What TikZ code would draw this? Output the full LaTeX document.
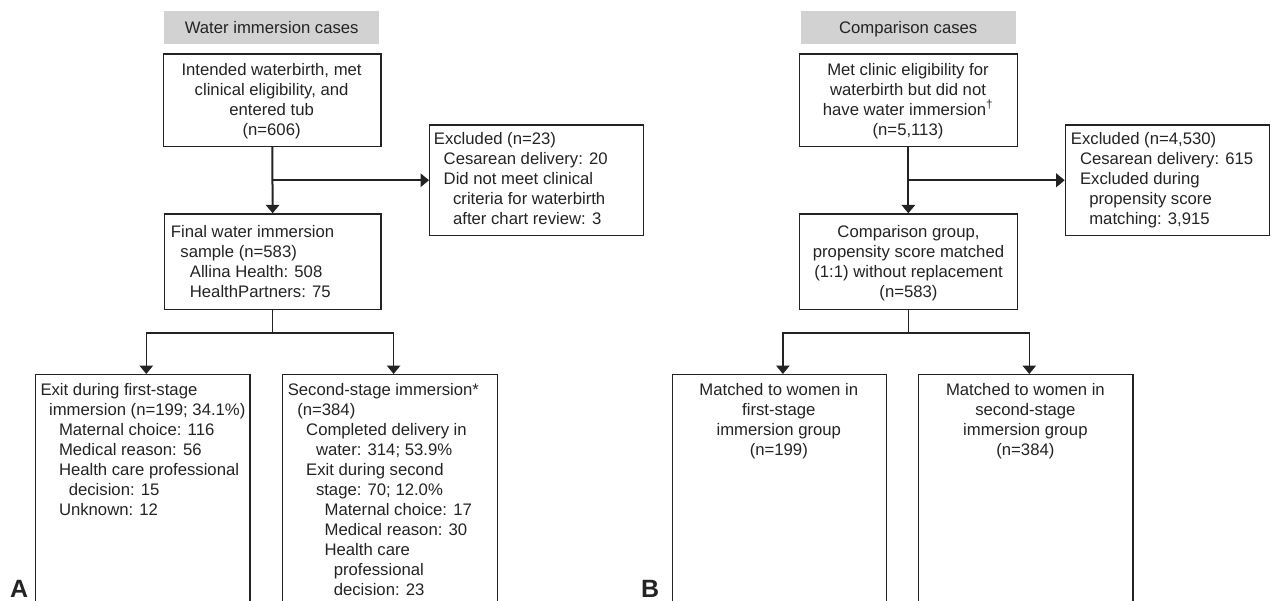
\documentclass[tikz,border=0pt]{standalone}
\usepackage{fontspec}
\setmainfont{Liberation Sans}
\usetikzlibrary{arrows.meta}
\definecolor{hdrgray}{RGB}{210,210,210}
\definecolor{ink}{RGB}{35,35,35}
\newcommand{\lftbox}[1]{\parbox[t]{300pt}{\raggedright #1}}
\newcommand{\ctrbox}[1]{\parbox[t]{260pt}{\centering #1}}
\newcommand{\ind}[1]{\hspace*{#1pt}}
\begin{document}
\begin{tikzpicture}[x=1pt,y=-1pt,
  box/.style={draw=ink, line width=1.2pt, rectangle, inner sep=0pt, anchor=north west},
  hdr/.style={fill=hdrgray, inner sep=0pt, anchor=north west, text height=12pt, text depth=0pt,
    text=ink, font=\fontsize{16.7}{20}\selectfont},
  txt/.style={inner sep=0pt, anchor=base west, text=ink, font=\fontsize{16.7}{20}\selectfont},
  ctxt/.style={txt, anchor=base},
  lbl/.style={inner sep=0pt, anchor=base west, text=ink, font=\bfseries\fontsize{25}{25}\selectfont},
  arr/.style={draw=ink, line width=1.3pt, -{Triangle[width=13.5pt,length=8.5pt]}},
  arrthick/.style={arr, line width=2pt},
  ln/.style={draw=ink, line width=1.3pt}]
\useasboundingbox (0,0) rectangle (1271,600);
\clip (0,0) rectangle (1271,600);

% ---------- Panel A ----------
\node[hdr, minimum width=215pt, minimum height=32.7pt] (ha) at (164,11) {Water immersion cases};
\node[box, minimum width=217.4pt, minimum height=92.7pt] (a1) at (163,53.3) {};
\node[ctxt] (a1t) at (271.6,75) {\ctrbox{Intended waterbirth, met\\clinical eligibility, and\\entered tub\\(n=606)}};
\node[box, minimum width=214pt, minimum height=110.7pt] (exa) at (429,124.3) {};
\node[txt] (exat) at (433.7,144.3) {\lftbox{Excluded (n=23)\\\ind{9.8}Cesarean delivery: 20\\\ind{9.8}Did not meet clinical\\\ind{19.2}criteria for waterbirth\\\ind{19.2}after chart review: 3}};
\node[box, minimum width=216.7pt, minimum height=95.7pt] (a2) at (163.7,213.3) {};
\node[txt] (a2t) at (170.7,237) {\lftbox{Final water immersion\\\ind{9.5}sample (n=583)\\\ind{19}Allina Health: 508\\\ind{19}HealthPartners: 75}};
\node[box, minimum width=214.4pt, minimum height=246pt] (a3) at (35,374) {};
\node[txt] (a3t) at (40.3,395.5) {\lftbox{Exit during first-stage\\\ind{8.6}immersion (n=199; 34.1\%)\\\ind{18.5}Maternal choice: 116\\\ind{18.5}Medical reason: 56\\\ind{18.5}Health care professional\\\ind{28.3}decision: 15\\\ind{18.5}Unknown: 12}};
\node[box, minimum width=215pt, minimum height=246pt] (a4) at (282,374) {};
\node[txt] (a4t) at (287.6,395.5) {\lftbox{Second-stage immersion*\\\ind{9.5}(n=384)\\\ind{18.4}Completed delivery in\\\ind{28.2}water: 314; 53.9\%\\\ind{18.4}Exit during second\\\ind{28.2}stage: 70; 12.0\%\\\ind{36.8}Maternal choice: 17\\\ind{36.8}Medical reason: 30\\\ind{36.8}Health care\\\ind{46}professional\\\ind{46}decision: 23}};
\node[lbl] (la) at (10,597.5) {A};

\draw[arrthick] (a1.south) -- (a2.north);
\coordinate (ja) at (a1.south |- exa.west);
\draw[arrthick] (ja) -- (exa.west);
\coordinate (ka) at ([yshift=-22.7pt]a2.south);
\draw[ln] (a2.south) -- (ka);
\draw[arr] (ka) -| ([xshift=3.5pt]a3.north);
\draw[arr] (ka) -| ([xshift=3.5pt]a4.north);

% ---------- Panel B ----------
\node[hdr, minimum width=214.7pt, minimum height=32.7pt] (hb) at (800.6,11) {Comparison cases};
\node[box, minimum width=217.5pt, minimum height=92.7pt] (b1) at (799,53.3) {};
\node[ctxt] (b1t) at (908,75) {\ctrbox{Met clinic eligibility for\\waterbirth but did not\\have water immersion\textsuperscript{\textdagger}\\(n=5,113)}};
\node[box, minimum width=204.3pt, minimum height=110.7pt] (exb) at (1064.7,124.3) {};
\node[txt] (exbt) at (1070.7,144.3) {\lftbox{Excluded (n=4,530)\\\ind{9.1}Cesarean delivery: 615\\\ind{9.1}Excluded during\\\ind{18.4}propensity score\\\ind{18.4}matching: 3,915}};
\node[box, minimum width=217.5pt, minimum height=95.7pt] (b2) at (799,213.3) {};
\node[ctxt] (b2t) at (908.5,237) {\ctrbox{Comparison group,\\propensity score matched\\(1:1) without replacement\\(n=583)}};
\node[box, minimum width=214.4pt, minimum height=246pt] (b3) at (671.6,374) {};
\node[ctxt] (b3t) at (778.8,395.5) {\ctrbox{Matched to women in\\first-stage\\immersion group\\(n=199)}};
\node[box, minimum width=214.4pt, minimum height=246pt] (b4) at (918,374) {};
\node[ctxt] (b4t) at (1025.4,395.5) {\ctrbox{Matched to women in\\second-stage\\immersion group\\(n=384)}};
\node[lbl] (lb) at (641,597.5) {B};

\draw[arrthick] (b1.south) -- (b2.north);
\coordinate (jb) at (b1.south |- exb.west);
\draw[arrthick] (jb) -- (exb.west);
\coordinate (kb) at ([yshift=-22.7pt]b2.south);
\draw[ln] (b2.south) -- (kb);
\draw[arr] (kb) -| ([xshift=3.5pt]b3.north);
\draw[arr] (kb) -| ([xshift=3.5pt]b4.north);
\end{tikzpicture}
\end{document}
